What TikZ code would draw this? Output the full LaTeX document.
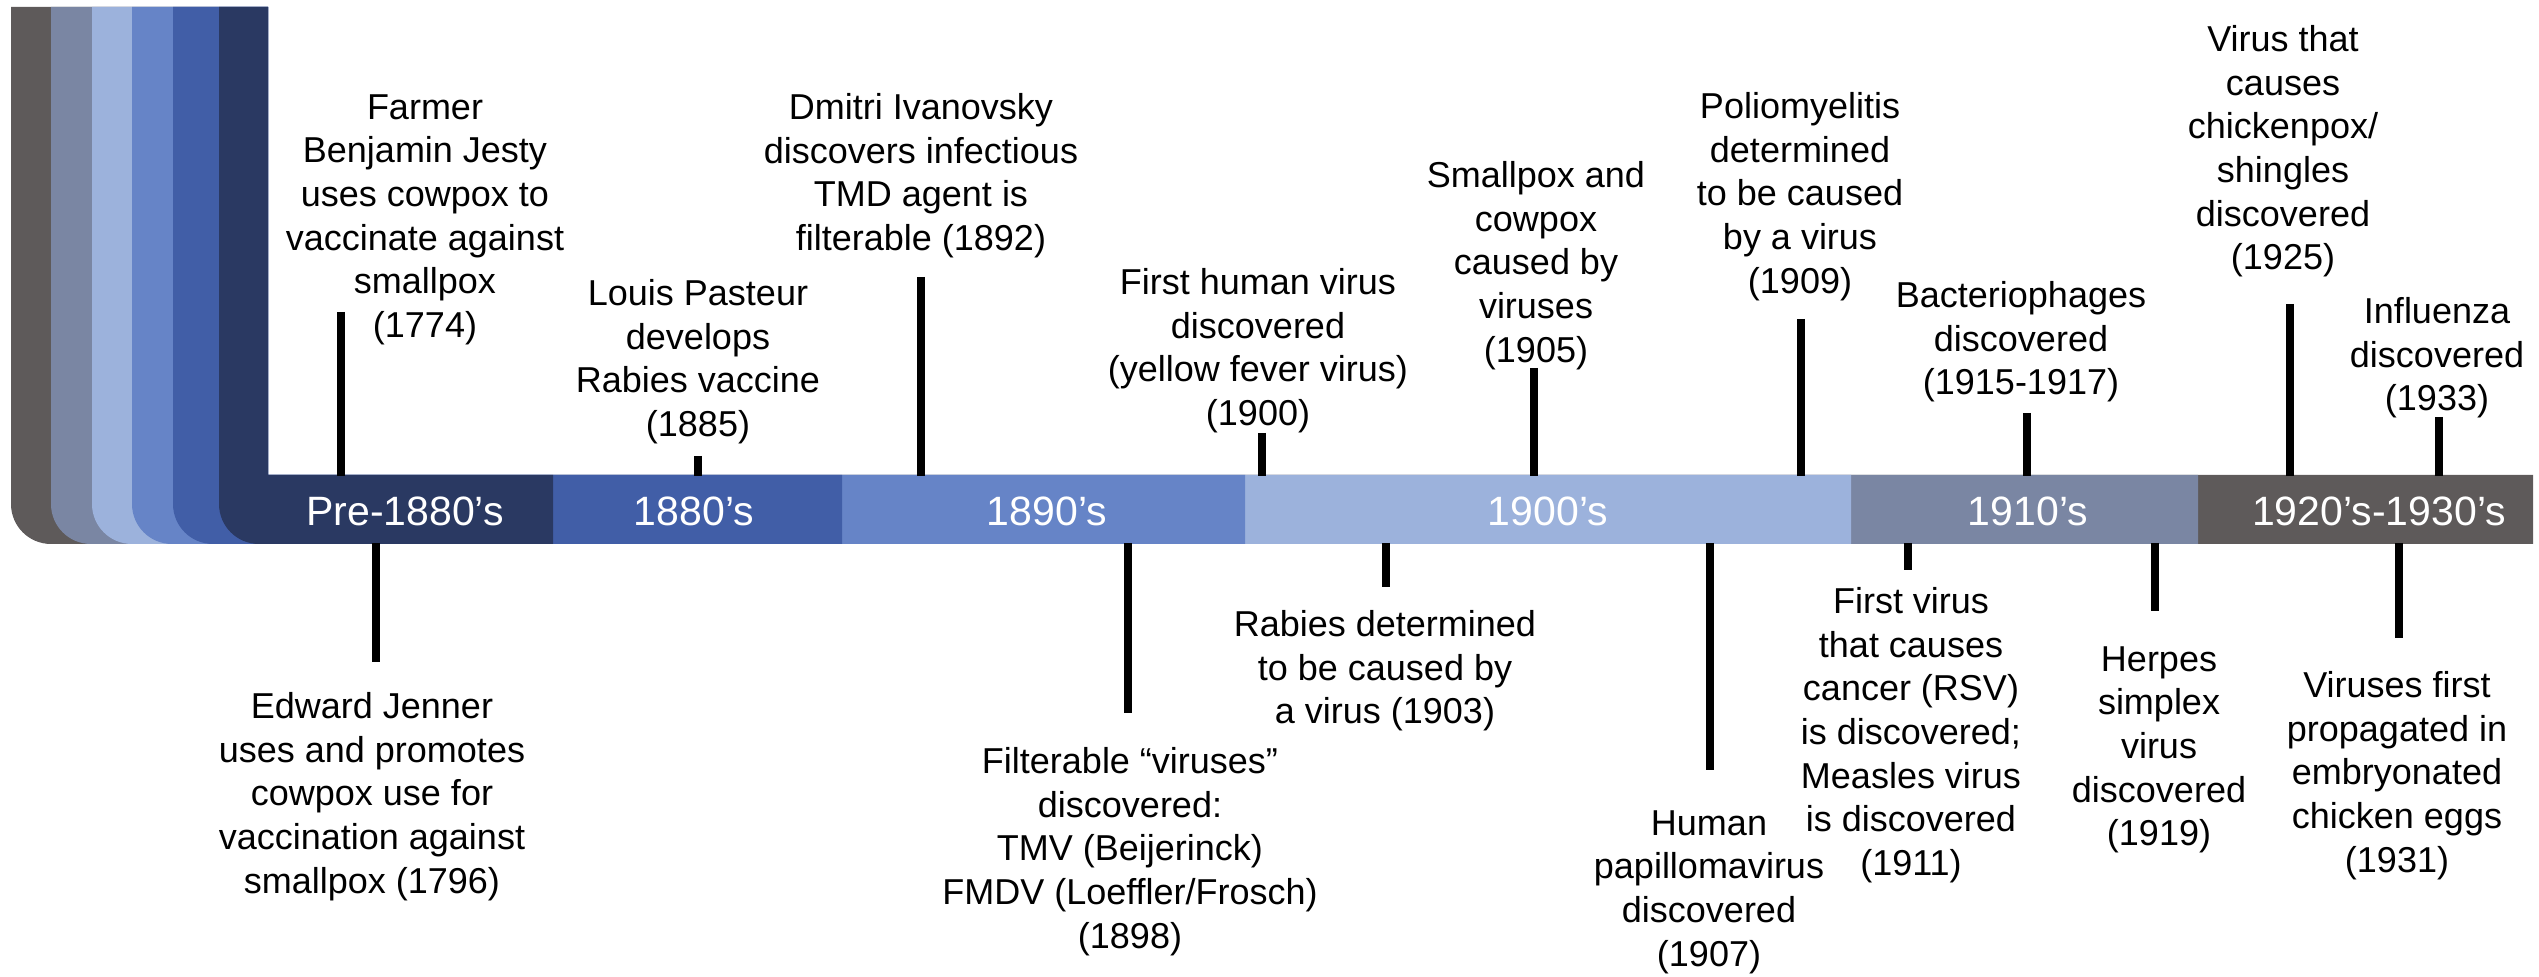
\documentclass[tikz,border=0pt]{standalone}
\usepackage{fontspec}
\setmainfont{Liberation Sans}
\definecolor{cgrey}{RGB}{94,90,90}
\definecolor{cslate}{RGB}{122,134,163}
\definecolor{clight}{RGB}{156,178,220}
\definecolor{cmed}{RGB}{102,132,199}
\definecolor{cblue}{RGB}{65,94,167}
\definecolor{cnavy}{RGB}{42,57,98}
\begin{document}
\begin{tikzpicture}[x=0.5pt,y=-0.5pt,
  ev/.style={align=center, anchor=north, inner sep=0pt, text=black,
             font=\fontsize{18}{21.85}\selectfont},
  era/.style={anchor=base, inner sep=0pt, text=white,
              font=\fontsize{20.5}{24}\selectfont},
  tick/.style={line width=3.8pt, black}]
\useasboundingbox (0,0) rectangle (2539,977);

% stripes and bar segments
\foreach \c/\l/\e in {cgrey/11/2533, cslate/51/2198, clight/92/1851,
                      cmed/132/1245, cblue/173/842, cnavy/219/553}{
  \fill[\c] (268,7) -- (268,475) -- (\e,475) -- (\e,544) -- ({\l+40},544)
    arc[start angle=90, end angle=180, radius=40] -- (\l,7) -- cycle;
}

% era labels
\node[era] (e1) at (405,526) {Pre-1880’s};
\node[era] (e2) at (694,526) {1880’s};
\node[era] (e3) at (1047,526) {1890’s};
\node[era] (e4) at (1548,526) {1900’s};
\node[era] (e5) at (2028,526) {1910’s};
\node[era] (e6) at (2379,526) {1920’s-1930’s};

% top events
\node[ev] (n1) at (425,94) {Farmer\\Benjamin Jesty\\uses cowpox to\\vaccinate against\\smallpox\\(1774)};
\node[ev] (n2) at (698,279) {Louis Pasteur\\develops\\Rabies vaccine\\(1885)};
\node[ev] (n3) at (921,93) {Dmitri Ivanovsky\\discovers infectious\\TMD agent is\\filterable (1892)};
\node[ev] (n4) at (1258,268) {First human virus\\discovered\\(yellow fever virus)\\(1900)};
\node[ev] (n5) at (1536,161) {Smallpox and\\cowpox\\caused by\\viruses\\(1905)};
\node[ev] (n6) at (1800,92) {Poliomyelitis\\determined\\to be caused\\by a virus\\(1909)};
\node[ev] (n7) at (2021,281) {Bacteriophages\\discovered\\(1915-1917)};
\node[ev] (n8) at (2283,25) {Virus that\\causes\\chickenpox/\\shingles\\discovered\\(1925)};
\node[ev] (n9) at (2437,297) {Influenza\\discovered\\(1933)};

% bottom events
\node[ev] (m1) at (372,692) {Edward Jenner\\uses and promotes\\cowpox use for\\vaccination against\\smallpox (1796)};
\node[ev] (m2) at (1130,747) {Filterable “viruses”\\discovered:\\TMV (Beijerinck)\\FMDV (Loeffler/Frosch)\\(1898)};
\node[ev] (m3) at (1385,610) {Rabies determined\\to be caused by\\a virus (1903)};
\node[ev] (m4) at (1709,810) {Human\\papillomavirus\\discovered\\(1907)};
\node[ev] (m5) at (1911,587) {First virus\\that causes\\cancer (RSV)\\is discovered;\\Measles virus\\is discovered\\(1911)};
\node[ev] (m6) at (2159,646) {Herpes\\simplex\\virus\\discovered\\(1919)};
\node[ev] (m7) at (2397,671) {Viruses first\\propagated in\\embryonated\\chicken eggs\\(1931)};

% ticks (top)
\foreach \i/\x/\y in {1/341/312, 2/698/456, 3/921/277, 4/1262/433, 5/1534/368,
                      6/1801/319, 7/2027/413, 8/2290/304, 9/2439/417}{
  \coordinate (ta\i) at (\x,\y);
  \coordinate (tb\i) at (\x,476);
  \draw[tick] (ta\i) -- (tb\i);
}
% ticks (bottom)
\foreach \i/\x/\y in {1/376/662, 2/1128/713, 3/1386/587, 4/1710/770,
                      5/1908/570, 6/2155/611, 7/2399/638}{
  \coordinate (ba\i) at (\x,543);
  \coordinate (bb\i) at (\x,\y);
  \draw[tick] (ba\i) -- (bb\i);
}
\end{tikzpicture}
\end{document}
